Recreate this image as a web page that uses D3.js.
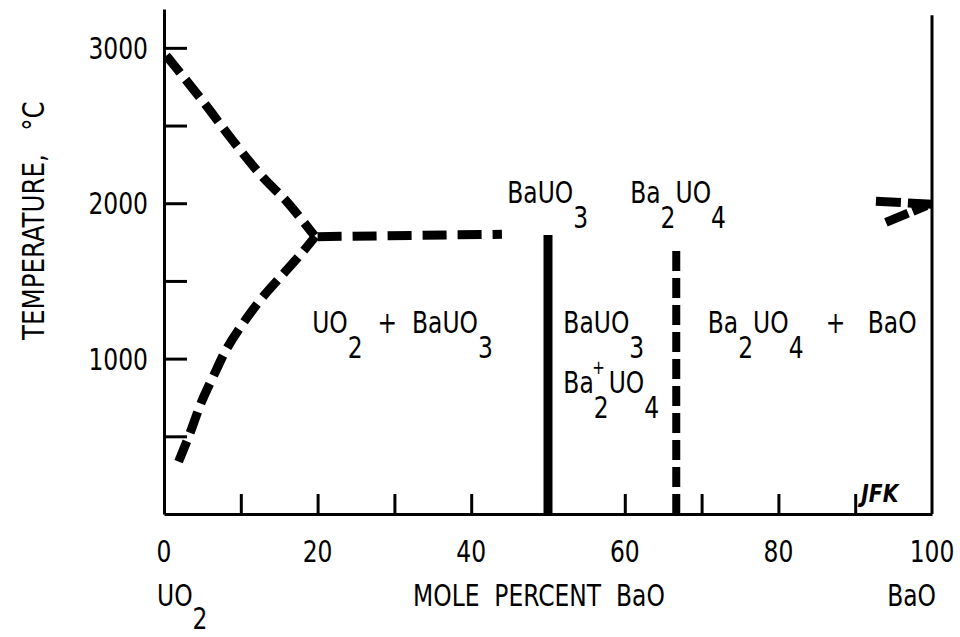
<!DOCTYPE html>
<html>
<head>
<meta charset="utf-8">
<script src="https://cdn.jsdelivr.net/npm/d3@7"></script>
<style>
    body { margin: 0; background: #fff; }
    text { font-family: 'DejaVu Sans Condensed', 'DejaVu Sans', sans-serif; fill: #000; white-space: pre; font-size: 31px; }
    .axis path, .axis line { stroke: #000; stroke-width: 3; }
    .phase { fill: none; stroke: #000; stroke-width: 9; }
</style>
</head>
<body>
<script>
//tick values
var xMajor = [0, 20, 40, 60, 80, 100];
var xMinor = [10, 20, 30, 40, 50, 60, 70, 80, 90];
var yMajor = [1000, 2000, 3000];
var yMinor = [500, 1000, 1500, 2000, 2500, 3000];

//phase boundaries, [mole percent BaO, temperature C]
var liquidusUO2 = [[0.3, 2950], [5, 2660], [9, 2400], [13, 2160], [16, 2010], [19.6, 1790]];
var solidusUO2 = [[1.9, 337], [3.4, 522], [4.9, 723], [6.4, 884], [8.2, 1067], [10.3, 1228], [12.9, 1399], [15.8, 1560], [18.1, 1689], [19.7, 1786]];
var eutectic = [[20, 1785], [44, 1800]];
var bauo3Line = [[50, 0], [50, 1795]];
var ba2uo4Line = [[66.7, 0], [66.7, 1710]];
var baoUpper = [[92.7, 2013], [100, 1994]];
var baoLower = [[94, 1877], [99.3, 1985]];

//region labels, "_" marks a subscript character
var regionLabels = [
    {text: "UO_2  +  BaUO_3", x: 19.3, y: 1165},
    {text: "BaUO_3", x: 52, y: 1165},
    {text: "Ba_2UO_4", x: 52, y: 779},
    {text: "Ba_2UO_4   +   BaO", x: 70.8, y: 1165},
    {text: "BaUO_3", x: 44.7, y: 2002},
    {text: "Ba_2UO_4", x: 60.7, y: 2002}
];

var squeeze = 0.84; //horizontal squeeze to mimic a condensed lettering

window.onload = drawChart();

function drawChart(){
    var width = 960, height = 637;

    var svg = d3.select("body")
        .append("svg")
        .attr("width", width)
        .attr("height", height);

    var x = d3.scaleLinear().domain([0, 100]).range([164, 932]);
    var y = d3.scaleLinear().domain([0, 3250]).range([514, 9]);

    //text helper: squeezed text placed at px, py
    function addText(px, py, anchor, rot, sq){
        var g = svg.append("g")
            .attr("transform", "translate(" + px + "," + py + ")" + (rot ? " rotate(" + rot + ")" : "") + " scale(" + (sq || squeeze) + ",1)");
        return g.append("text").attr("text-anchor", anchor || "start");
    }

    //formula text with subscripts
    function formula(sel, str, shift){
        shift = shift || 25;
        var parts = str.split(/(_.)/).filter(function(p){ return p !== ""; });
        var back = 0;
        parts.forEach(function(p){
            if (p[0] === "_"){
                sel.append("tspan").attr("dy", shift + back).text(p[1]);
                back = -shift;
            } else {
                sel.append("tspan").attr("dy", back).text(p);
                back = 0;
            }
        });
    }

    //left axis with inward ticks
    svg.append("g")
        .attr("class", "axis")
        .attr("transform", "translate(" + x(0) + ",0)")
        .call(d3.axisLeft(y).tickValues(yMinor).tickSizeInner(-23).tickSizeOuter(0).tickFormat(""));

    //right frame line
    svg.append("line")
        .attr("x1", x(100)).attr("x2", x(100))
        .attr("y1", y(3210)).attr("y2", y(0))
        .attr("stroke", "#000").attr("stroke-width", 3);

    //bottom axis with upward ticks
    svg.append("g")
        .attr("class", "axis")
        .attr("transform", "translate(0," + y(0) + ")")
        .call(d3.axisBottom(x).tickValues(xMinor).tickSizeInner(-20).tickSizeOuter(0).tickFormat(""));

    svg.selectAll(".axis text").remove();

    //tick labels
    yMajor.forEach(function(d){
        addText(148, y(d) + 11, "end").text(d);
    });
    xMajor.forEach(function(d){
        addText(x(d), 562, "middle").text(d);
    });

    //phase boundary lines
    var line = d3.line()
        .x(function(d){ return x(d[0]); })
        .y(function(d){ return y(d[1]); });

    svg.append("path").datum(liquidusUO2).attr("class", "phase")
        .attr("d", line.curve(d3.curveCatmullRom))
        .attr("stroke-dasharray", "22,9");
    svg.append("path").datum(solidusUO2).attr("class", "phase")
        .attr("d", line.curve(d3.curveCatmullRom))
        .attr("stroke-dasharray", "22,9");
    line.curve(d3.curveLinear);
    svg.append("path").datum(eutectic).attr("class", "phase")
        .attr("d", line)
        .attr("stroke-dasharray", "24,11");
    svg.append("path").datum(bauo3Line).attr("class", "phase")
        .attr("d", line);
    svg.append("path").datum(ba2uo4Line).attr("class", "phase")
        .attr("d", line)
        .style("stroke-width", 8)
        .attr("stroke-dasharray", "20,7");
    svg.append("path").datum(baoUpper).attr("class", "phase")
        .attr("d", line)
        .attr("stroke-dasharray", "25,7");
    svg.append("path").datum(baoLower).attr("class", "phase")
        .attr("d", line)
        .attr("stroke-dasharray", "24,5");

    regionLabels.forEach(function(d){
        formula(addText(x(d.x), y(d.y)), d.text);
    });

    //small plus between the two compounds
    addText(x(56.6), y(900), "middle")
        .style("font-size", "20px")
        .text("+");

    addText(x(90.8), y(77), "start", 0, 0.9)
        .style("font-size", "25px")
        .style("font-weight", "bold")
        .style("font-style", "italic")
        .text("JFK");

    //axis titles
    formula(addText(157, 606), "UO_2", 23);
    addText(413, 606).text("MOLE  PERCENT  BaO");
    addText(936, 606, "end").text("BaO");

    addText(44, 340, "start", -90, 0.88).text("TEMPERATURE,   \u00B0C");
}
</script>
</body>
</html>
